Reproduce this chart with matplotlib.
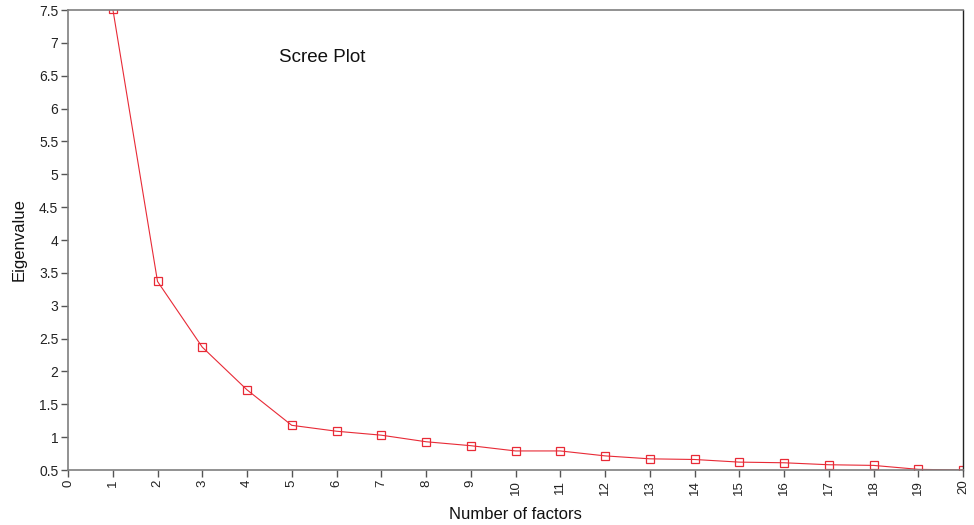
import matplotlib
matplotlib.use("Agg")
import matplotlib.pyplot as plt

plt.rcParams['font.family'] = ['Liberation Sans', 'DejaVu Sans']

factors = list(range(1, 21))
eigenvalues = [7.52, 3.37, 2.37, 1.72, 1.18, 1.09, 1.03, 0.93, 0.87, 0.79,
               0.79, 0.715, 0.67, 0.66, 0.62, 0.61, 0.58, 0.57, 0.51, 0.50]
x_ticks = list(range(0, 21))
y_ticks = [0.5, 1, 1.5, 2, 2.5, 3, 3.5, 4, 4.5, 5, 5.5, 6, 6.5, 7, 7.5]
y_tick_labels = ['0.5', '1', '1.5', '2', '2.5', '3', '3.5', '4', '4.5', '5',
                 '5.5', '6', '6.5', '7', '7.5']

fig = plt.figure(figsize=(9.74, 5.25), dpi=100)
ax = fig.add_axes([68/974, 1-470/525, (963-68)/974, (470-10)/525])

red = '#e82a36'
ax.plot(factors, eigenvalues, color=red, lw=0.8, marker='s', markersize=6,
        markerfacecolor='none', markeredgecolor=red, markeredgewidth=0.9,
        clip_on=True)

ax.set_xlim(0, 20)
ax.set_ylim(0.5, 7.5)
ax.set_xticks(x_ticks)
ax.set_xticklabels([str(t) for t in x_ticks], rotation=90)
ax.set_yticks(y_ticks)
ax.set_yticklabels(y_tick_labels)

for s in ['left', 'bottom', 'top']:
    ax.spines[s].set_color('#7f7f7f')
    ax.spines[s].set_linewidth(1.2)
ax.spines['right'].set_color('#222222')
ax.spines['right'].set_linewidth(1.0)

ax.tick_params(axis='both', direction='out', length=5, width=1.0,
               color='#555555', labelsize=10, labelcolor='#222222', pad=2)
ax.tick_params(axis='x', labelsize=9.5)
ax.tick_params(top=False, right=False)

ax.set_xlabel('Number of factors', fontsize=12, labelpad=9, color='#111111')
ax.set_ylabel('Eigenvalue', fontsize=12, labelpad=9, color='#111111')

fig.text(322/974, 1-57/525, 'Scree Plot', fontsize=13.5, color='#111111',
         ha='center', va='center')

fig.savefig('out.png', dpi=100, facecolor='white')
